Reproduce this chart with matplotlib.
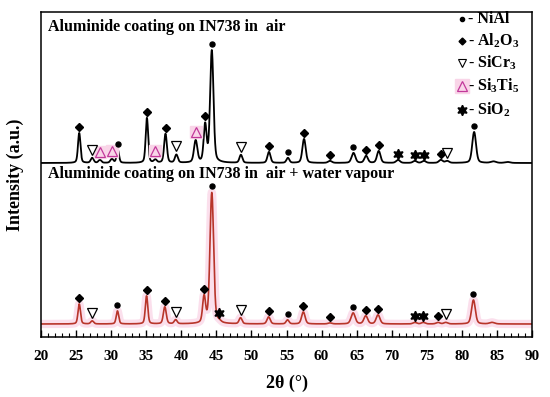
import numpy as np
import matplotlib
matplotlib.use("Agg")
import matplotlib.pyplot as plt
from matplotlib.ticker import MultipleLocator

plt.rcParams['font.family'] = ['Liberation Serif', 'DejaVu Serif']
plt.rcParams['mathtext.default'] = 'regular'

# ---------------- data (2theta in degrees, intensity in arbitrary units) ----------------
top_baseline = 174.0
top_pos = [25.45, 27.3, 28.4, 30.1, 30.95, 35.1, 36.3, 37.75, 39.3, 42.05, 43.4, 44.35,
           48.5, 52.5, 55.2, 57.5, 61.2, 64.55, 66.35, 68.15, 70.9, 73.3, 74.6, 77.0,
           77.9, 81.75, 84.5, 86.5]
top_height = [30, 5, 3, 4, 13, 45, 3, 29, 8, 22, 37, 112,
              8, 11, 5, 24, 2, 10, 7, 12, 3, 2, 2, 3,
              2, 31, 1.5, 1]
top_width = [0.17, 0.2, 0.2, 0.2, 0.17, 0.17, 0.2, 0.19, 0.2, 0.23, 0.2, 0.23,
             0.2, 0.21, 0.2, 0.23, 0.26, 0.26, 0.24, 0.24, 0.26, 0.26, 0.26, 0.26,
             0.26, 0.26, 0.35, 0.35]

bot_baseline = 13.0
bot_pos = [25.45, 27.3, 30.9, 35.05, 37.65, 39.2, 43.25, 44.35, 45.4, 48.45, 52.45,
           55.15, 57.4, 61.2, 64.5, 66.3, 68.05, 73.3, 74.5, 76.6, 77.7, 81.65, 84.3]
bot_height = [20, 3, 13, 28, 17, 4, 26, 131, 1.5, 6, 7,
              4, 12, 1, 11, 8, 9, 1.5, 1.5, 1.5, 1.5, 24, 1.5]
bot_width = [0.17, 0.2, 0.17, 0.17, 0.2, 0.2, 0.2, 0.25, 0.25, 0.2, 0.22,
             0.2, 0.24, 0.26, 0.28, 0.26, 0.26, 0.26, 0.26, 0.26, 0.26, 0.26, 0.35]

# phase markers (2theta positions)
top_NiAl = [30.95, 44.35, 55.2, 64.55, 81.75]
top_Al2O3 = [25.45, 35.1, 37.75, 43.4, 52.5, 57.5, 61.2, 66.35, 68.15, 77.0]
top_SiCr3 = [27.3, 39.3, 48.5, 77.95]
top_Si3Ti5 = [28.4, 30.1, 36.3, 42.05]
top_SiO2 = [70.9, 73.3, 74.6]

bot_NiAl = [30.9, 44.35, 55.15, 64.5, 81.65]
bot_Al2O3 = [25.45, 35.05, 37.65, 43.25, 52.45, 57.4, 61.2, 66.3, 68.05, 76.6]
bot_SiCr3 = [27.3, 39.2, 48.45, 77.75]
bot_SiO2 = [45.4, 73.3, 74.5]

legend_labels = ['- NiAl', '- Al$_2$O$_3$', '- SiCr$_3$', '- Si$_3$Ti$_5$', '- SiO$_2$']
label_top = 'Aluminide coating on IN738 in  air'
label_bot = 'Aluminide coating on IN738 in  air + water vapour'

# ---------------- build patterns ----------------
x = np.linspace(20, 90, 7001)


def pattern(base, pos, h, w):
    y = np.full_like(x, base)
    for p, hh, ww in zip(pos, h, w):
        g = np.exp(-0.5 * ((x - p) / ww) ** 2)
        lor = 1.0 / (1.0 + ((x - p) / (ww * 1.5)) ** 2)
        y += hh * (0.75 * g + 0.25 * lor)
    return y


y_top = pattern(top_baseline, top_pos, top_height, top_width)
y_bot = pattern(bot_baseline, bot_pos, bot_height, bot_width)

fig = plt.figure(figsize=(5.5, 3.97), dpi=100)
ax = fig.add_axes([41 / 550, 1 - 337 / 397, 491 / 550, 325 / 397])

ax.plot(x, y_bot, color='#fad8e8', lw=6, alpha=0.8, solid_capstyle='butt', zorder=1)
ax.plot(x, y_bot, color='#b8352a', lw=1.2, zorder=2)
ax.plot(x, y_top, color='black', lw=1.3, zorder=2)


def ymark(yc, xs, off):
    return [np.interp(v, x, yc) + off for v in xs]


def draw_markers(yc, ni, al, sic, sio, si3=None):
    ax.plot(ni, ymark(yc, ni, 6), 'o', color='black', ms=3.6, zorder=4, ls='none')
    ax.plot(al, ymark(yc, al, 6), 'D', color='black', ms=4.0, zorder=4, ls='none')
    ax.plot(sic, ymark(yc, sic, 8), 'v', mfc='white', mec='black', mew=0.9, ms=7,
            zorder=4, ls='none')
    ax.plot(sio, ymark(yc, sio, 6), marker=(6, 1, 0), color='black', ms=7.5, zorder=4,
            ls='none')
    if si3 is not None:
        yy = ymark(yc, si3, 8)
        ax.plot(si3, yy, 's', color='#f9d5e8', ms=9, zorder=3, ls='none')
        ax.plot(si3, yy, '^', mfc='none', mec='#c2389a', mew=0.9, ms=7, zorder=4,
                ls='none')


draw_markers(y_top, top_NiAl, top_Al2O3, top_SiCr3, top_SiO2, top_Si3Ti5)
draw_markers(y_bot, bot_NiAl, bot_Al2O3, bot_SiCr3, bot_SiO2)

ax.set_xlim(20, 90)
ax.set_ylim(0, 325)
ax.xaxis.set_major_locator(MultipleLocator(5))
ax.xaxis.set_minor_locator(MultipleLocator(1))
ax.tick_params(axis='x', which='major', direction='in', length=5, width=1, top=False,
               labelsize=11, pad=9)
ax.tick_params(axis='x', which='minor', direction='in', length=3, width=0.8, top=False)
ax.tick_params(axis='y', left=False, labelleft=False)
for lab in ax.get_xticklabels():
    lab.set_fontweight('bold')
for s in ax.spines.values():
    s.set_linewidth(1.1)

ax.set_xlabel('2θ (°)', fontsize=13, fontweight='bold', labelpad=9)
ax.set_ylabel('Intensity (a.u.)', fontsize=13, fontweight='bold', labelpad=12)

ax.text(0.014, 0.955, label_top, transform=ax.transAxes, fontsize=11.5,
        fontweight='bold', va='center', ha='left')
ax.text(0.014, 0.5, label_bot, transform=ax.transAxes, fontsize=11.5,
        fontweight='bold', va='center', ha='left')

# legend built by hand
leg_y = [0.978, 0.911, 0.843, 0.772, 0.698]
mx = 0.858
tx = 0.870
ax.plot([mx], [leg_y[0]], 'o', color='black', ms=3, transform=ax.transAxes, clip_on=False)
ax.plot([mx], [leg_y[1]], 'D', color='black', ms=3.5, transform=ax.transAxes, clip_on=False)
ax.plot([mx], [leg_y[2]], 'v', mfc='white', mec='black', mew=0.8, ms=6,
        transform=ax.transAxes, clip_on=False)
ax.plot([mx], [leg_y[3]], 's', color='#f9d5e8', ms=10, transform=ax.transAxes, clip_on=False)
ax.plot([mx], [leg_y[3]], '^', mfc='none', mec='#c2389a', mew=0.9, ms=7,
        transform=ax.transAxes, clip_on=False)
ax.plot([mx], [leg_y[4]], marker=(6, 1, 0), color='black', ms=7.5,
        transform=ax.transAxes, clip_on=False)
for yy, lab in zip(leg_y, legend_labels):
    ax.text(tx, yy, lab, transform=ax.transAxes, fontsize=11.5, fontweight='bold',
            va='center', ha='left')

fig.savefig('out.png', dpi=100)
